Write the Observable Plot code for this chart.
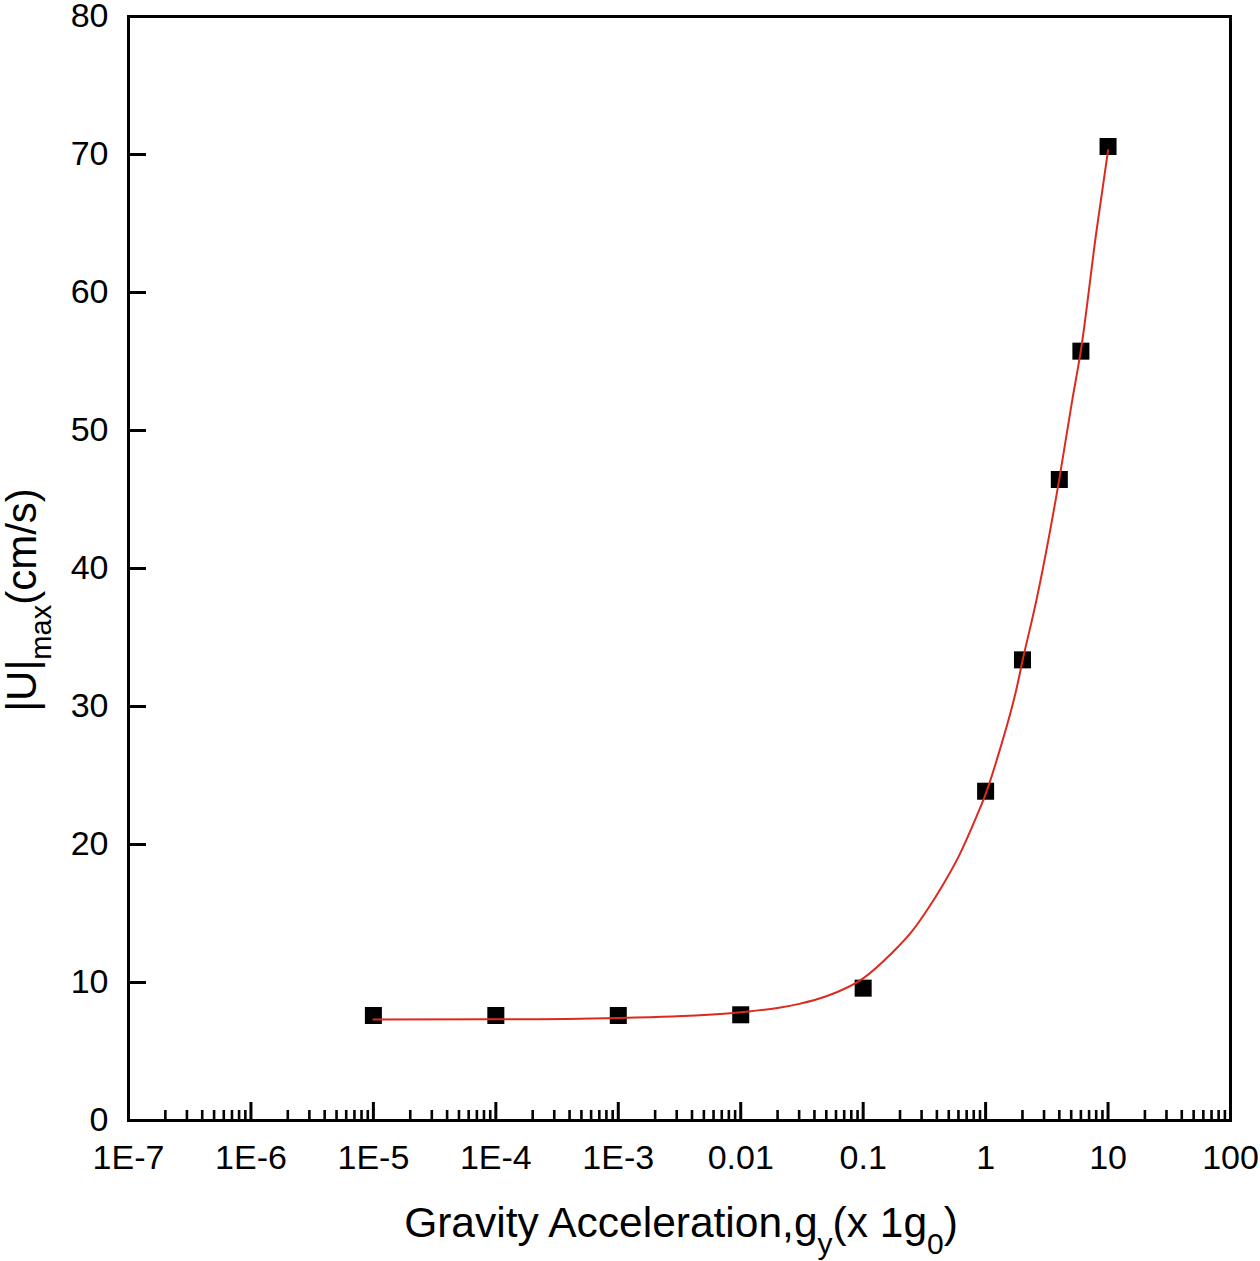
<!DOCTYPE html>
<html>
<head>
<meta charset="utf-8">
<script src="https://cdn.jsdelivr.net/npm/d3@7"></script>
<script src="https://cdn.jsdelivr.net/npm/@observablehq/plot@0.6"></script>
<style>
  html, body { margin: 0; padding: 0; background: #fff; }
  #chart svg { display: block; }
</style>
</head>
<body>
<div id="chart"></div>
<script>
// Measured data points (gravity in units of g0, |U|max in cm/s)
const gravity = [1e-5, 1e-4, 1e-3, 0.01, 0.1, 1, 2, 4, 6, 10];
const umax    = [7.61, 7.61, 7.61, 7.66, 9.59, 23.86, 33.38, 46.45, 55.75, 70.58];

// Fitted curve (red)
const fitX = [1e-5, 1e-4, 1e-3, 3e-3, 0.01, 0.02, 0.03, 0.05, 0.1, 0.17, 0.25, 0.33, 0.45, 0.6, 0.84, 1, 1.3, 1.8, 2, 2.6, 4, 5.1, 6, 8, 10];
const fitY = [7.32, 7.33, 7.43, 7.55, 7.85, 8.15, 8.45, 9.0, 10.3, 12.1, 13.7, 15.2, 17.1, 19.1, 22.0, 23.65, 26.8, 31.4, 33.3, 37.7, 46.5, 52.2, 55.8, 64.3, 70.3];

// Axis ticks
const xTickValues = [1e-7, 1e-6, 1e-5, 1e-4, 1e-3, 0.01, 0.1, 1, 10, 100];
const xTickLabels = ["1E-7", "1E-6", "1E-5", "1E-4", "1E-3", "0.01", "0.1", "1", "10", "100"];
const minorMultipliers = [2, 3, 4, 5, 6, 7, 8, 9];
const yTickValues = [0, 10, 20, 30, 40, 50, 60, 70, 80];
const yTickLabels = ["0", "10", "20", "30", "40", "50", "60", "70", "80"];

const points = gravity.map((g, i) => ({g, u: umax[i]}));
const fit = fitX.map((g, i) => ({g, u: fitY[i]}));
const minorTicks = xTickValues.slice(0, -1).flatMap(d => minorMultipliers.map(m => d * m));
const xLabelMap = new Map(xTickValues.map((v, i) => [v, xTickLabels[i]]));
const yLabelMap = new Map(yTickValues.map((v, i) => [v, yTickLabels[i]]));

const W = 1260, H = 1261;
const mL = 128, mR = 30, mT = 16, mB = 141;
const innerW = W - mL - mR, innerH = H - mT - mB;

const svg = Plot.plot({
  width: W,
  height: H,
  marginLeft: mL,
  marginRight: mR,
  marginTop: mT,
  marginBottom: mB,
  style: {fontFamily: "'Liberation Sans', Arial, sans-serif", background: "#fff", color: "#000", overflow: "visible"},
  x: {type: "log", domain: [1e-7, 100]},
  y: {domain: [0, 80]},
  marks: [
    Plot.axisX({ticks: xTickValues, tickFormat: d => xLabelMap.get(d), tickSize: 0, tickPadding: 24, fontSize: 34, label: null}),
    Plot.axisY({ticks: yTickValues, tickFormat: d => yLabelMap.get(d), tickSize: 0, tickPadding: 20, fontSize: 34, label: null}),
    // inward major ticks on the bottom axis
    Plot.tickX(xTickValues, {x: d => d, stroke: "#000", strokeWidth: 3, insetTop: innerH - 18}),
    // inward minor ticks
    Plot.tickX(minorTicks, {x: d => d, stroke: "#000", strokeWidth: 2.6, insetTop: innerH - 10}),
    // inward ticks on the left axis
    Plot.tickY(yTickValues.slice(1, -1), {y: d => d, stroke: "#000", strokeWidth: 3, insetRight: innerW - 18}),
    Plot.dot(points, {x: "g", y: "u", symbol: "square", r: 9.6, fill: "#000", stroke: "none"}),
    Plot.line(fit, {x: "g", y: "u", stroke: "#dc2a1e", strokeWidth: 2, curve: "monotone-x"}),
    Plot.frame({stroke: "#000", strokeWidth: 3})
  ]
});

const s = d3.select(svg);
// X axis title with subscripts
const xt = s.append("text")
  .attr("x", mL + innerW / 2 + 2)
  .attr("y", 1237)
  .attr("text-anchor", "middle")
  .attr("font-size", 42.5)
  .attr("fill", "#000");
xt.append("tspan").text("Gravity Acceleration,g");
xt.append("tspan").attr("font-size", 30).attr("dy", 17).text("y");
xt.append("tspan").attr("font-size", 42.5).attr("dy", -17).text("(x 1g");
xt.append("tspan").attr("font-size", 30).attr("dy", 17).text("0");
xt.append("tspan").attr("font-size", 42.5).attr("dy", -17).text(")");

// Y axis title with subscript
const yt = s.append("text")
  .attr("transform", "translate(36,600) rotate(-90)")
  .attr("text-anchor", "middle")
  .attr("font-size", 42)
  .attr("fill", "#000");
yt.append("tspan").text("|U|");
yt.append("tspan").attr("font-size", 29).attr("dy", 15).text("max");
yt.append("tspan").attr("font-size", 42).attr("dy", -15).text("(cm/s)");

document.getElementById("chart").appendChild(svg);
</script>
</body>
</html>
